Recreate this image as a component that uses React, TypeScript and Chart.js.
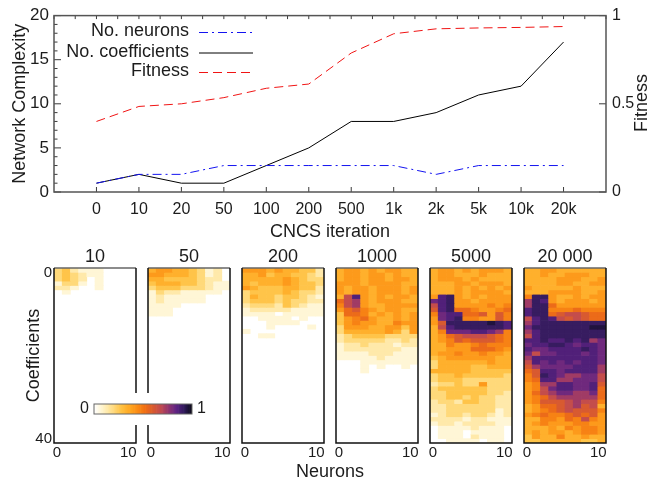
import React, { useEffect, useRef } from "react";
import { Chart, registerables } from "chart.js";

Chart.register(...registerables);

const FONT = "'Liberation Sans', Arial, sans-serif";
const TEXT = "#1c1c1c";

// ---- top chart data ----
const iterations = ["0", "10", "20", "50", "100", "200", "500", "1k", "2k", "5k", "10k", "20k"];
const neurons = [1, 2, 2, 3, 3, 3, 3, 3, 2, 3, 3, 3];
const coefficients = [1, 2, 1, 1, 3, 5, 8, 8, 9, 11, 12, 17];
const fitness = [0.4, 0.485, 0.5, 0.535, 0.588, 0.612, 0.788, 0.897, 0.925, 0.93, 0.933, 0.938];

// ---- heat maps: each row is one coefficient, each hex digit one neuron ----
const levelValues = [0, 0.067, 0.133, 0.2, 0.267, 0.333, 0.4, 0.467, 0.533, 0.6, 0.667, 0.733, 0.81, 0.86, 0.905, 0.95];
const heat10 = [
  "3421110000",
  "3432110000",
  "3432010000",
  "1331010000",
  "2210010000",
  "0100000000",
];
const heat50 = [
  "5665543120",
  "6655543120",
  "5544443220",
  "4555443211",
  "3444333211",
  "1322111110",
  "1211111000",
  "1211111000",
  "1111000000",
  "1110000000",
  "1110000000",
];
const heat200 = [
  "6665655442",
  "5564554432",
  "5555565433",
  "5455565443",
  "6544455442",
  "3444454332",
  "3544344321",
  "3444343322",
  "2333243211",
  "1222221111",
  "1111011111",
  "0011110100",
  "0001111000",
  "0001000010",
  "1000000000",
  "0011000000",
];
const heat1000 = [
  "5665656655",
  "5665665655",
  "5665665665",
  "6665666655",
  "6566566656",
  "6566566656",
  "5ad6565665",
  "8ab6566655",
  "7ab6556666",
  "6897656655",
  "4887565656",
  "4678655656",
  "4676655766",
  "3666556646",
  "3555556536",
  "2344443333",
  "2333332232",
  "1223222122",
  "1222222211",
  "1111222111",
  "1111121111",
  "0001111111",
  "0001010010",
  "0001000000",
];
const heat5000 = [
  "5665656665",
  "5665556555",
  "5666565555",
  "5556656665",
  "5556565656",
  "5556566665",
  "6de6565666",
  "cde6656666",
  "ade6666767",
  "9de8876678",
  "7cdd889697",
  "6cde776697",
  "69eeeeefed",
  "5adeeeeeed",
  "57cccddcb7",
  "5689aaa987",
  "5679899987",
  "5576678777",
  "5566688876",
  "5667667665",
  "4566666655",
  "3555555655",
  "3555544555",
  "5555544444",
  "3445444443",
  "3444333333",
  "2334336333",
  "3444444333",
  "3344444332",
  "3344343322",
  "2332443322",
  "2233333322",
  "2233333312",
  "1233233212",
  "2222122111",
  "1221222211",
  "0111121110",
  "0111011110",
  "0111021110",
  "0011110110",
];
const heat20000 = [
  "5566555555",
  "5565566655",
  "5555666556",
  "5555665566",
  "6555556555",
  "5556666556",
  "7ee6556566",
  "bed6566656",
  "bee8666666",
  "dee7778777",
  "dee89aa988",
  "adeda9a988",
  "bdeeeeeeee",
  "ceeeeeeeff",
  "bdeeeeeeee",
  "adeeeeeeee",
  "ddeddedebc",
  "cddeedcddc",
  "dccddddedc",
  "caccdddcdc",
  "bddddddddc",
  "adcdcdcddc",
  "9bccccdddb",
  "89ddcddddb",
  "79edcbbcca",
  "78ddbbccca",
  "67bbddccd9",
  "67acddccd8",
  "68abccbbc8",
  "678abbbbb8",
  "67999abaa7",
  "56889ab9a5",
  "56789a9997",
  "6787789896",
  "5577687a76",
  "5676667766",
  "5556576776",
  "5656656776",
  "4655755655",
  "4455555445",
];

const panelTitles = ["10", "50", "200", "1000", "5000", "20 000"];
const panelRows = [heat10, heat50, heat200, heat1000, heat5000, heat20000];
const neuronTicks = [0, 10];
const coefficientTicks = [0, 40];
const neuronColumns = ["1", "2", "3", "4", "5", "6", "7", "8", "9", "10"];
const colorbarSteps = Array.from({ length: 80 }, (_, i) => (i + 0.5) / 80);

// ---- colour map ----
const STOPS: [number, number, number, number][] = [
  [0, 255, 255, 255],
  [0.07, 255, 246, 212],
  [0.14, 255, 232, 165],
  [0.21, 255, 214, 115],
  [0.28, 255, 192, 64],
  [0.36, 255, 168, 34],
  [0.44, 251, 140, 20],
  [0.52, 240, 110, 20],
  [0.6, 216, 90, 48],
  [0.68, 192, 74, 80],
  [0.76, 143, 52, 112],
  [0.84, 92, 34, 132],
  [0.92, 46, 26, 88],
  [1, 8, 8, 18],
];
function colorOf(v: number): string {
  if (v <= 0) return "rgba(255,255,255,0)";
  for (let i = 1; i < STOPS.length; i++) {
    if (v <= STOPS[i][0]) {
      const a = STOPS[i - 1];
      const b = STOPS[i];
      const t = (v - a[0]) / (b[0] - a[0]);
      const c = [1, 2, 3].map((k) => Math.round(a[k] + (b[k] - a[k]) * t));
      return `rgb(${c[0]},${c[1]},${c[2]})`;
    }
  }
  return "rgb(8,8,18)";
}

// ---- layout ----
const PANEL_LEFT = [54, 148, 242, 336, 430, 524];
const PANEL_W = 82;
const PANEL_TOP_Y = 245;
const PANEL_CANVAS_H = 234;

const fixW = (w: number) => (s: any) => { s.width = w; };
const fixH = (h: number) => (s: any) => { s.height = h; };
const fixWNoPad = (w: number) => (s: any) => {
  s.width = w;
  s.paddingTop = 0;
  s.paddingBottom = 0;
};

const topPlugin = {
  id: "topDecor",
  afterDraw(chart: any) {
    const { ctx, chartArea: a, scales } = chart;
    ctx.save();
    ctx.strokeStyle = "#3a3a3a";
    ctx.lineWidth = 1;
    const line = (x1: number, y1: number, x2: number, y2: number) => {
      ctx.beginPath(); ctx.moveTo(x1, y1); ctx.lineTo(x2, y2); ctx.stroke();
    };
    for (let v = 0; v <= 20; v += 1) {
      const y = scales.y.getPixelForValue(v);
      line(a.left, y, a.left + (v % 5 === 0 ? 7 : 3.5), y);
    }
    for (const v of [0, 0.5, 1]) {
      const y = scales.y1.getPixelForValue(v);
      line(a.right, y, a.right - 7, y);
    }
    for (let i = 0; i < iterations.length; i++) {
      const x = scales.x.getPixelForValue(i);
      line(x, a.bottom, x, a.bottom - 5);
    }
    for (let v = -1; v <= 12; v += 0.5) {
      const x = scales.x.getPixelForValue(v);
      line(x, a.top, x, a.top + 3.5);
    }
    ctx.strokeStyle = "#555";
    ctx.lineWidth = 1.5;
    ctx.strokeRect(a.left, a.top, a.right - a.left, a.bottom - a.top);

    // legend, text on the left of the line sample
    const rows = [31.5, 52, 71.5];
    ctx.font = `18px ${FONT}`;
    ctx.textAlign = "right";
    ctx.textBaseline = "middle";
    chart.data.datasets.forEach((d: any, i: number) => {
      ctx.fillStyle = TEXT;
      ctx.fillText(d.label, 189, rows[i]);
      ctx.save();
      ctx.strokeStyle = d.borderColor;
      ctx.lineWidth = d.borderWidth;
      ctx.setLineDash(d.borderDash || []);
      line(199, rows[i] + 1, 253, rows[i] + 1);
      ctx.restore();
    });

    // right-hand title reads bottom to top
    ctx.translate(642, 103);
    ctx.rotate(-Math.PI / 2);
    ctx.textAlign = "center";
    ctx.fillStyle = TEXT;
    ctx.fillText("Fitness", 0, 0);
    ctx.restore();
  },
};

const framePlugin = {
  id: "panelFrame",
  afterDraw(chart: any) {
    const { ctx, chartArea: a } = chart;
    ctx.save();
    ctx.lineWidth = 1.5;
    ctx.strokeStyle = "#666";
    ctx.beginPath(); ctx.moveTo(a.left, a.top); ctx.lineTo(a.right, a.top); ctx.stroke();
    ctx.strokeStyle = "#111";
    ctx.beginPath();
    ctx.moveTo(a.left, a.top); ctx.lineTo(a.left, a.bottom); ctx.lineTo(a.right, a.bottom); ctx.lineTo(a.right, a.top);
    ctx.stroke();
    ctx.restore();
  },
};

const barFramePlugin = {
  id: "barFrame",
  afterDraw(chart: any) {
    const { ctx, chartArea: a } = chart;
    ctx.save();
    ctx.lineWidth = 1;
    ctx.strokeStyle = "#666";
    ctx.strokeRect(a.left, a.top, a.right - a.left, a.bottom - a.top);
    ctx.restore();
  },
};

export default function App() {
  const topRef = useRef<HTMLCanvasElement>(null);
  const barRef = useRef<HTMLCanvasElement>(null);
  const panelRefs = useRef<(HTMLCanvasElement | null)[]>([]);

  useEffect(() => {
    Chart.defaults.font.family = FONT;
    Chart.defaults.color = TEXT;
    const charts: Chart[] = [];

    charts.push(
      new Chart(topRef.current!, {
        type: "line",
        data: {
          datasets: [
            { label: "No. neurons", data: neurons.map((y, x) => ({ x, y })), borderColor: "#1414f0", borderWidth: 1, borderDash: [9, 4, 2, 4], yAxisID: "y" },
            { label: "No. coefficients", data: coefficients.map((y, x) => ({ x, y })), borderColor: "#000", borderWidth: 1, yAxisID: "y" },
            { label: "Fitness", data: fitness.map((y, x) => ({ x, y })), borderColor: "#f01414", borderWidth: 1, borderDash: [9, 5], yAxisID: "y1" },
          ],
        } as any,
        options: {
          animation: false,
          responsive: false,
          layout: { autoPadding: false, padding: { top: 14, left: 0, right: 0, bottom: 0 } },
          elements: { point: { radius: 0 }, line: { tension: 0 } },
          plugins: { legend: { display: false }, tooltip: { enabled: false } },
          scales: {
            x: {
              type: "linear", min: -1, max: 12,
              afterBuildTicks: (s: any) => { s.ticks = iterations.map((_, i) => ({ value: i })); },
              ticks: { font: { size: 16 }, padding: 8, maxRotation: 0, autoSkip: false, callback: (v: any) => iterations[v] ?? "" },
              grid: { display: false, drawTicks: false },
              border: { display: false },
              title: { display: true, text: "CNCS iteration", font: { size: 18 }, padding: { top: 0, bottom: 1 } },
              afterFit: fixH(52),
            },
            y: {
              min: 0, max: 20,
              ticks: { stepSize: 5, font: { size: 17 }, padding: 5 },
              grid: { display: false, drawTicks: false },
              border: { display: false },
              title: { display: true, text: "Network Complexity", font: { size: 18 }, padding: { top: 9, bottom: 0 } },
              afterFit: fixW(54),
            },
            y1: {
              position: "right", min: 0, max: 1,
              ticks: { stepSize: 0.5, font: { size: 16 }, padding: 6, callback: (v: any) => String(v) },
              grid: { display: false, drawTicks: false },
              border: { display: false },
              afterFit: fixW(56),
            },
          },
        } as any,
        plugins: [topPlugin],
      })
    );

    panelRows.forEach((rows, p) => {
      const full = Array.from({ length: 40 }, (_, r) => rows[r] ?? "0000000000");
      const first = p === 0;
      const scales: any = {
        x: { display: false, stacked: true, grid: { display: false } },
        y: { display: false, stacked: true, reverse: true, min: 0, max: 40, grid: { display: false } },
        xl: {
          axis: "x", type: "linear", position: "bottom", bounds: "data", offset: false, min: -0.42, max: 11.07,
          afterBuildTicks: (s: any) => { s.ticks = neuronTicks.map((value) => ({ value })); },
          ticks: { font: { size: 15 }, padding: 1, maxRotation: 0, autoSkip: false },
          grid: { display: false, drawTicks: false, offset: false },
          border: { display: false },
          afterFit: fixH(36),
        },
      };
      if (first) {
        scales.yl = {
          axis: "y", type: "linear", position: "left", reverse: true, bounds: "data", offset: false, min: -1.28, max: 41.06,
          afterBuildTicks: (s: any) => { s.ticks = coefficientTicks.map((value) => ({ value })); },
          ticks: { font: { size: 15 }, padding: 2, autoSkip: false },
          grid: { display: false, drawTicks: false, offset: false },
          border: { display: false },
          title: { display: true, text: "Coefficients", font: { size: 18 }, padding: { top: 23, bottom: 0 } },
          afterFit: fixW(54),
        };
      }
      charts.push(
        new Chart(panelRefs.current[p]!, {
          type: "bar",
          data: {
            labels: neuronColumns,
            datasets: full.map((row) => ({
              data: row.split("").map(() => 1),
              backgroundColor: row.split("").map((c) => colorOf(levelValues[parseInt(c, 16)])),
              borderWidth: 0,
              barPercentage: 1,
              categoryPercentage: 1,
            })),
          },
          options: {
            animation: false,
            responsive: false,
            layout: { autoPadding: false, padding: { left: first ? 0 : 10, right: 10, top: 0, bottom: 0 } },
            plugins: {
              legend: { display: false },
              tooltip: { enabled: false },
              title: { display: true, fullSize: false, text: panelTitles[p], color: TEXT, font: { size: 18, weight: "normal" }, padding: { top: 1, bottom: 0.4 } },
            },
            scales,
          } as any,
          plugins: [framePlugin],
        })
      );
    });

    charts.push(
      new Chart(barRef.current!, {
        type: "bar",
        data: {
          labels: ["0"],
          datasets: colorbarSteps.map((v) => ({
            data: [1 / colorbarSteps.length],
            backgroundColor: colorOf(v),
            borderWidth: 0,
            barPercentage: 1,
            categoryPercentage: 1,
          })),
        },
        options: {
          indexAxis: "y",
          animation: false,
          responsive: false,
          layout: { autoPadding: false, padding: { top: 11, bottom: 11, left: 0, right: 0 } },
          plugins: { legend: { display: false }, tooltip: { enabled: false } },
          scales: {
            x: { display: false, stacked: true, min: 0, max: 1, grid: { display: false } },
            y: {
              stacked: true, type: "category", labels: ["0"],
              ticks: { font: { size: 16 }, padding: 5 },
              grid: { display: false, drawTicks: false }, border: { display: false },
              afterFit: fixWNoPad(20),
            },
            y1: {
              axis: "y", type: "category", labels: ["1"], position: "right",
              ticks: { font: { size: 16 }, padding: 5 },
              grid: { display: false, drawTicks: false }, border: { display: false },
              afterFit: fixWNoPad(18),
            },
          },
        } as any,
        plugins: [barFramePlugin],
      })
    );

    return () => charts.forEach((c) => c.destroy());
  }, []);

  const soft = "blur(0.3px)";
  return (
    <div style={{ position: "absolute", left: 0, top: 0, width: 662, height: 479, overflow: "hidden", background: "#fff" }}>
      <canvas ref={topRef} width={662} height={244} style={{ position: "absolute", left: 0, top: 0, filter: soft }} />
      {PANEL_LEFT.map((l, i) => {
        const cl = i === 0 ? 0 : l - 10;
        return (
          <canvas
            key={i}
            ref={(el) => { panelRefs.current[i] = el; }}
            width={l + PANEL_W + 10 - cl}
            height={PANEL_CANVAS_H}
            style={{ position: "absolute", left: cl, top: PANEL_TOP_Y, filter: soft }}
          />
        );
      })}
      <canvas ref={barRef} width={136} height={32} style={{ position: "absolute", left: 74, top: 393, background: "#fff", filter: soft }} />
      <div style={{ position: "absolute", left: 230, width: 200, top: 461, textAlign: "center", font: `18px ${FONT}`, color: TEXT, filter: soft }}>Neurons</div>
    </div>
  );
}
